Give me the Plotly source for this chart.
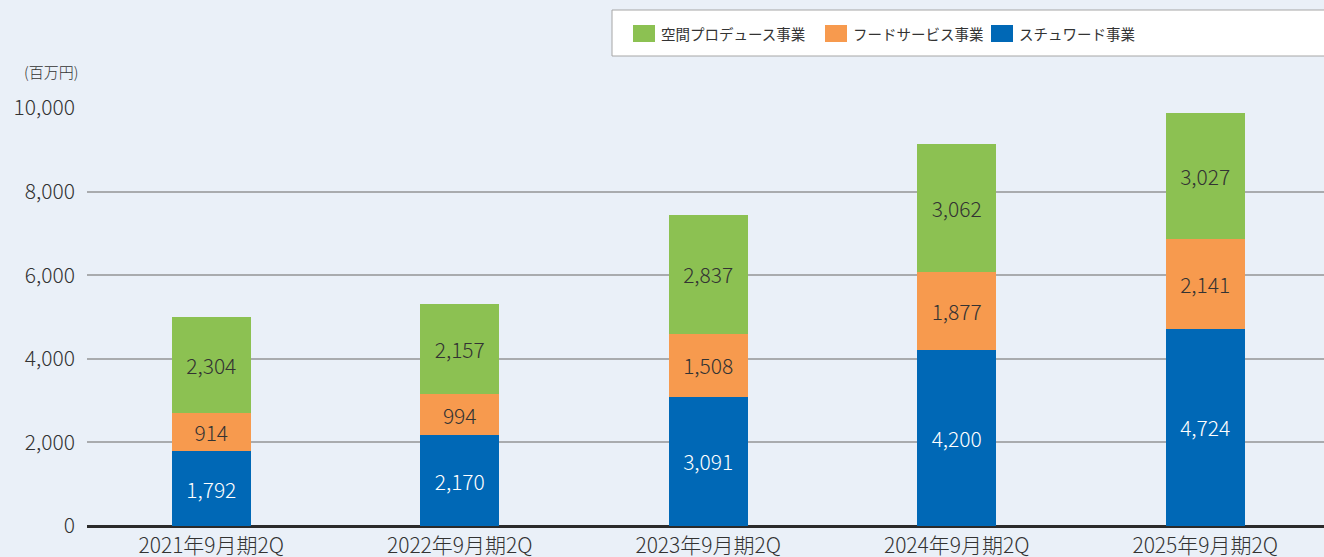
import plotly.graph_objects as go

categories = ["2021年9月期2Q", "2022年9月期2Q", "2023年9月期2Q", "2024年9月期2Q", "2025年9月期2Q"]
steward = [1792, 2170, 3091, 4200, 4724]
food = [914, 994, 1508, 1877, 2141]
space = [2304, 2157, 2837, 3062, 3027]
series_names = ["空間プロデュース事業", "フードサービス事業", "スチュワード事業"]
y_ticks = [0, 2000, 4000, 6000, 8000, 10000]

FONT = "Noto Sans CJK JP"
BG = "#EAF0F8"
C_BLUE = "#0068B6"
C_ORANGE = "#F79A4E"
C_GREEN = "#8CC152"
TXT = "#333333"
WT = 300

fig = go.Figure()
for name, vals, col, tcol in [
    (series_names[2], steward, C_BLUE, "white"),
    (series_names[1], food, C_ORANGE, TXT),
    (series_names[0], space, C_GREEN, TXT),
]:
    fig.add_trace(go.Bar(
        x=categories, y=vals, name=name, marker=dict(color=col, line=dict(width=0)),
        width=0.318, text=[f"{v:,}" for v in vals], textposition="inside",
        insidetextanchor="middle", textangle=0,
        textfont=dict(family=FONT, size=21, color=tcol, weight=WT), showlegend=False,
        hoverinfo="skip",
    ))

fig.update_layout(
    barmode="stack", width=1324, height=557,
    paper_bgcolor=BG, plot_bgcolor=BG,
    margin=dict(l=87, r=0, t=108, b=31),
    font=dict(family=FONT, color=TXT),
    uniformtext=dict(mode=False),
)
fig.update_xaxes(
    range=[-0.5, 4.478], showgrid=False, ticks="", showline=False, automargin=False,
    tickfont=dict(family=FONT, size=21, color=TXT, weight=WT), ticklabelstandoff=5,
)
fig.update_yaxes(
    range=[0, 10000], tickvals=y_ticks, tickformat=",d", automargin=False,
    showgrid=True, gridcolor="#A9ABAE", gridwidth=1.5,
    zeroline=True, zerolinecolor="#2B2B2B", zerolinewidth=3,
    tickfont=dict(family=FONT, size=21, color=TXT, weight=WT), ticks="", ticklabelstandoff=11,
)

# unit label
fig.add_annotation(text="(百万円)", xref="paper", yref="paper", x=-0.0057, y=1.0,
                   xanchor="right", yanchor="bottom", yshift=24, showarrow=False,
                   font=dict(family=FONT, size=15, color=TXT, weight=WT))

# custom legend box (pixel-based paper coords)
W, H = 1324, 557
L, T, B = 87, 108, 31
pw, ph = W - L, H - T - B
def px(x):
    return (x - L) / pw
def py(y):
    return (H - B - y) / ph

fig.add_shape(type="rect", xref="paper", yref="paper", x0=px(612), x1=px(1330), y0=py(56), y1=py(10),
              fillcolor="white", line=dict(color="#A6A6A6", width=1))
leg = [(series_names[0], C_GREEN, 633), (series_names[1], C_ORANGE, 825), (series_names[2], C_BLUE, 991)]
for name, col, x0 in leg:
    fig.add_shape(type="rect", xref="paper", yref="paper", x0=px(x0), x1=px(x0 + 22),
                  y0=py(42), y1=py(25), fillcolor=col, line=dict(width=0))
    fig.add_annotation(text=name, xref="paper", yref="paper", x=px(x0 + 26), y=py(33.5),
                       xanchor="left", yanchor="middle", showarrow=False,
                       font=dict(family=FONT, size=14.5, color=TXT))

fig.write_html("out.html", config={"displayModeBar": False},
               post_script="document.body.style.margin='0';document.body.style.overflow='hidden';")
